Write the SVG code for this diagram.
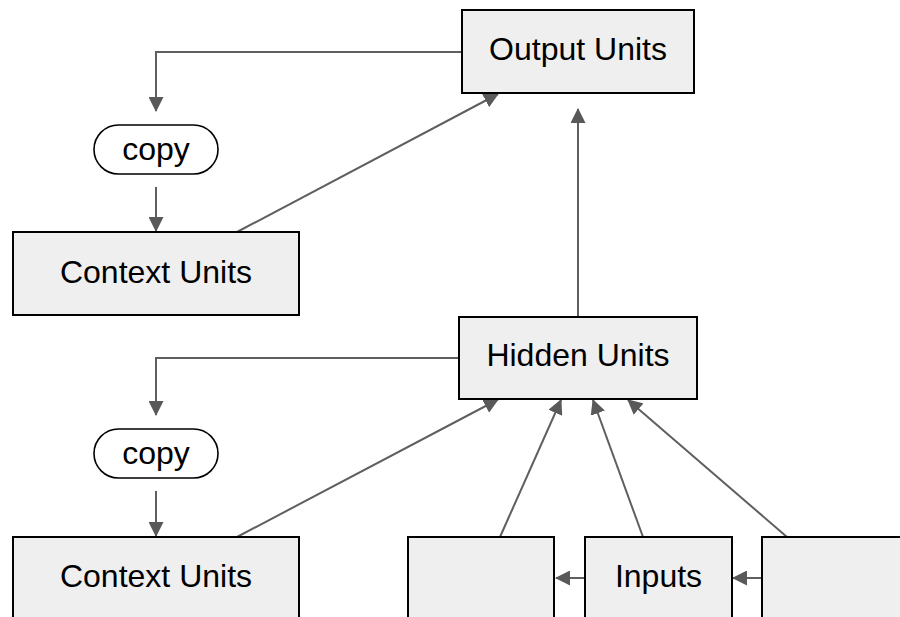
<svg xmlns="http://www.w3.org/2000/svg" width="900" height="617" viewBox="0 0 900 617">
  <style>
    .box { fill: #efefef; stroke: #000; stroke-width: 2; }
    .pill { fill: #fff; stroke: #000; stroke-width: 1.6; }
    .label { font-family: "Liberation Sans", Arial, sans-serif; font-size: 32px; fill: #000; text-anchor: middle; }
    .edge { fill: none; stroke: #5f5f5f; stroke-width: 2; marker-end: url(#arrow); }
  </style>
  <defs>
    <marker id="arrow" markerUnits="userSpaceOnUse" markerWidth="15" markerHeight="15" refX="14" refY="7.5" orient="auto">
      <path d="M0,0 L15,7.5 L0,15 z" fill="#595959"/>
    </marker>
  </defs>
  <rect width="900" height="617" fill="#fff"/>

  <g id="connectors">
    <path class="edge" d="M462,52 H156 V111"/>
    <path class="edge" d="M156,187 V231"/>
    <path class="edge" d="M237,232 L498,94"/>
    <path class="edge" d="M578,317 V109"/>
    <path class="edge" d="M459,358 H156 V415"/>
    <path class="edge" d="M156,491 V536"/>
    <path class="edge" d="M237,537 L498,399.5"/>
    <path class="edge" d="M500,537 L561,400"/>
    <path class="edge" d="M643,537 L593,400"/>
    <path class="edge" d="M787,537 L628,400"/>
    <path class="edge" d="M585,578 H556"/>
    <path class="edge" d="M762,578 H733"/>
  </g>

  <g id="output-units">
    <rect class="box" x="462" y="10" width="232" height="83"/>
    <text class="label" x="578" y="60">Output Units</text>
  </g>
  <g id="copy-top">
    <rect class="pill" x="94" y="125" width="124" height="49" rx="24.5"/>
    <text class="label" x="156" y="160">copy</text>
  </g>
  <g id="context-units-top">
    <rect class="box" x="13" y="232" width="286" height="83"/>
    <text class="label" x="156" y="283">Context Units</text>
  </g>
  <g id="hidden-units">
    <rect class="box" x="459" y="317" width="238" height="82"/>
    <text class="label" x="578" y="366">Hidden Units</text>
  </g>
  <g id="copy-bottom">
    <rect class="pill" x="94" y="429" width="124" height="49" rx="24.5"/>
    <text class="label" x="156" y="464">copy</text>
  </g>
  <g id="context-units-bottom">
    <rect class="box" x="13" y="537" width="286" height="100"/>
    <text class="label" x="156" y="587">Context Units</text>
  </g>
  <g id="input-left">
    <rect class="box" x="408" y="537" width="146" height="100"/>
  </g>
  <g id="inputs">
    <rect class="box" x="585" y="537" width="147" height="100"/>
    <text class="label" x="658.5" y="587">Inputs</text>
  </g>
  <g id="input-right">
    <rect class="box" x="762" y="537" width="160" height="100"/>
  </g>
</svg>
